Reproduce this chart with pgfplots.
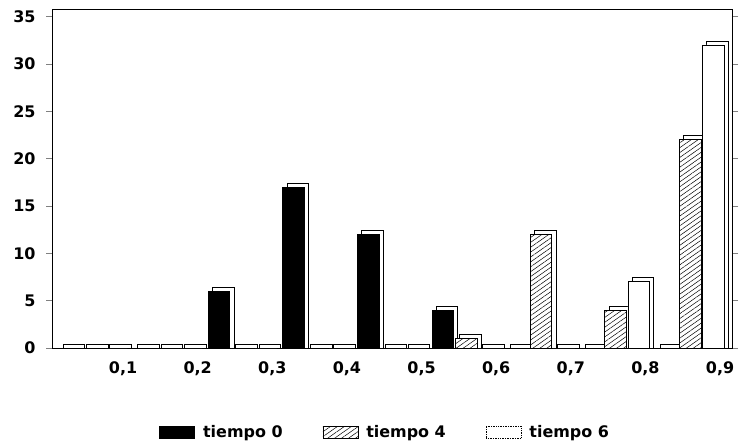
\documentclass[border=0pt]{standalone}
\usepackage{fontspec}
\setmainfont{DejaVu Sans}
\usepackage{pgfplots}
\usepackage{pgfplotstable}
\pgfplotsset{compat=1.18}
\usetikzlibrary{patterns.meta}

\pgfplotstableread{
x t0 t4 t6
0 0 0 0
1 0 0 0
2 6 0 0
3 17 0 0
4 12 0 0
5 4 1 0
6 0 12 0
7 0 4 7
8 0 22 32
}\data

\pgfplotsset{
  lgbox/.style={legend image code/.code={\draw[##1] (0bp,-6bp) rectangle (35bp,6bp);}},
  lgdot/.style={legend image code/.code={\draw[##1,densely dotted] (0bp,-6bp) rectangle (35bp,6bp);}},
  barbase/.style={ybar, bar shift=0pt, bar width=0.29, line width=0.7pt, draw=black},
  back/.style={barbase, fill=white, forget plot},
}
\def\dx{0.055}
\def\dy{0.42}

\begin{document}
\begin{tikzpicture}
\useasboundingbox (-52bp,-95bp) rectangle (693bp,348bp);
\begin{axis}[
  at={(0,0)}, anchor=south west,
  width=680bp, height=339bp, scale only axis,
  xmin=0.048, xmax=9.16, ymin=0, ymax=35.8,
  ytick={0,5,...,35},
  xtick={1,...,9},
  xticklabels={{0,1},{0,2},{0,3},{0,4},{0,5},{0,6},{0,7},{0,8},{0,9}},
  tick align=outside,
  major tick length=6bp,
  xtick style={draw=none},
  ytick style={line width=0.7pt},
  axis line style={line width=0.7pt},
  ticklabel style={font=\bfseries\fontsize{16}{18}\selectfont},
  /pgf/number format/assume math mode=true,
  yticklabel style={xshift=-7bp},
  xticklabel style={yshift=-4bp},
  legend columns=3,
  legend style={draw=none, at={(0.49,-0.248)}, anchor=center,
    font=\bfseries\fontsize{16}{18}\selectfont,
    /tikz/every odd column/.append style={column sep=6bp},
    /tikz/every even column/.append style={column sep=38bp}},
]
% depth (3D) faces
\addplot[back] table[x expr=\thisrow{x}+0.285+\dx, y expr=\thisrow{t0}+\dy] {\data};
\addplot[back] table[x expr=\thisrow{x}+0.60+\dx, y expr=\thisrow{t4}+\dy] {\data};
\addplot[back] table[x expr=\thisrow{x}+0.91+\dx, y expr=\thisrow{t6}+\dy] {\data};
% front faces
\addplot[barbase, fill=black, lgbox] table[x expr=\thisrow{x}+0.285, y=t0] {\data};
\addlegendentry{tiempo 0}
\addplot[barbase, preaction={fill=white}, pattern={Lines[angle=35,distance=4bp,line width=0.5bp]}, lgbox] table[x expr=\thisrow{x}+0.60, y=t4] {\data};
\addlegendentry{tiempo 4}
\addplot[barbase, fill=white, lgdot] table[x expr=\thisrow{x}+0.91, y=t6] {\data};
\addlegendentry{tiempo 6}
\end{axis}
\end{tikzpicture}
\end{document}
